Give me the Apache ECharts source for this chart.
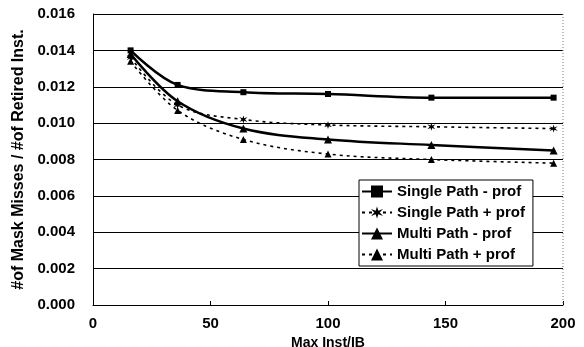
<!DOCTYPE html>
<html><head><meta charset="utf-8">
<script src="https://cdn.jsdelivr.net/npm/echarts@6/dist/echarts.min.js"></script>
<style>html,body{margin:0;padding:0;background:#fff}#c{width:584px;height:347px}</style>
</head><body><div id="c"></div>
<script>
const xValues = [16, 36, 64, 100, 144, 196];
const singleMinus = [0.0140, 0.0121, 0.0117, 0.0116, 0.0114, 0.0114];
const singlePlus  = [0.0136, 0.0110, 0.0102, 0.0099, 0.0098, 0.0097];
const multiMinus  = [0.0138, 0.0112, 0.0097, 0.0091, 0.0088, 0.0085];
const multiPlus   = [0.0134, 0.0107, 0.0091, 0.0083, 0.0080, 0.0078];
const seriesNames = ['Single Path - prof', 'Single Path + prof', 'Multi Path - prof', 'Multi Path + prof'];
const yTicks = ['0.000','0.002','0.004','0.006','0.008','0.010','0.012','0.014','0.016'];

const pair = arr => xValues.map((x, i) => [x, arr[i]]);
const FONT = 'Liberation Sans, Arial, sans-serif';
const starPath = 'path://M0,-10L2,-3L9,-6L4,0L9,6L2,3L0,10L-2,3L-9,6L-4,0L-9,-6L-2,-3Z';

const chart = echarts.init(document.getElementById('c'), null, {renderer: 'canvas'});
function mk(name, data, solid, symbol, size) {
  return {
    name, type: 'line', data: pair(data), smooth: 0.35,
    symbol, symbolSize: size, showSymbol: true,
    lineStyle: {color: '#000', width: solid ? 2.5 : 1.6, type: solid ? 'solid' : [3, 4]},
    itemStyle: {color: '#000'},
    emphasis: {disabled: true}, animation: false
  };
}
chart.setOption({
  animation: false,
  grid: {left: 93, right: 21, top: 14, bottom: 42, containLabel: false, outerBoundsMode: 'none'},
  legend: {
    orient: 'vertical', left: 359, top: 180,
    backgroundColor: '#fff', borderColor: '#000', borderWidth: 1,
    padding: [4, 8, 4, 2], itemGap: 6, itemWidth: 30, itemHeight: 15,
    textStyle: {fontFamily: FONT, fontWeight: 'bold', fontSize: 15, color: '#000'},
    data: seriesNames
  },
  xAxis: {
    type: 'value', min: 0, max: 200, interval: 50,
    name: 'Max Inst/IB', nameLocation: 'middle', nameGap: 30,
    nameTextStyle: {fontFamily: FONT, fontSize: 14, color: '#000', fontWeight: 'bold'},
    axisLine: {show: true, lineStyle: {color: '#000', width: 1}},
    axisTick: {show: true, inside: true, length: 4, lineStyle: {color: '#000'}},
    axisLabel: {fontFamily: FONT, fontWeight: 'bold', fontSize: 15, color: '#000', margin: 11},
    splitLine: {show: false}
  },
  yAxis: {
    type: 'value', min: 0, max: 0.016, interval: 0.002,
    name: '#of Mask Misses / #of Retired Inst.', nameLocation: 'middle', nameGap: 66,
    nameTextStyle: {fontFamily: FONT, fontSize: 16, fontWeight: 'bold', color: '#000'},
    axisLine: {show: true, lineStyle: {color: '#000', width: 1}},
    axisTick: {show: false},
    axisLabel: {fontFamily: FONT, fontWeight: 'bold', fontSize: 15, color: '#000', margin: 18,
      formatter: (v) => yTicks[Math.round(v / 0.002)]},
    splitLine: {show: true, lineStyle: {color: '#000', width: 1}}
  },
  graphic: [
    {type: 'line', shape: {x1: 563, y1: 14, x2: 563, y2: 305}, style: {stroke: '#777', lineWidth: 1, lineDash: [1, 2]}, z: 10}
  ],
  series: [
    mk(seriesNames[0], singleMinus, true, 'rect', 6),
    mk(seriesNames[1], singlePlus, false, starPath, 8),
    mk(seriesNames[2], multiMinus, true, 'triangle', 8),
    mk(seriesNames[3], multiPlus, false, 'triangle', 7)
  ]
});
</script></body></html>
